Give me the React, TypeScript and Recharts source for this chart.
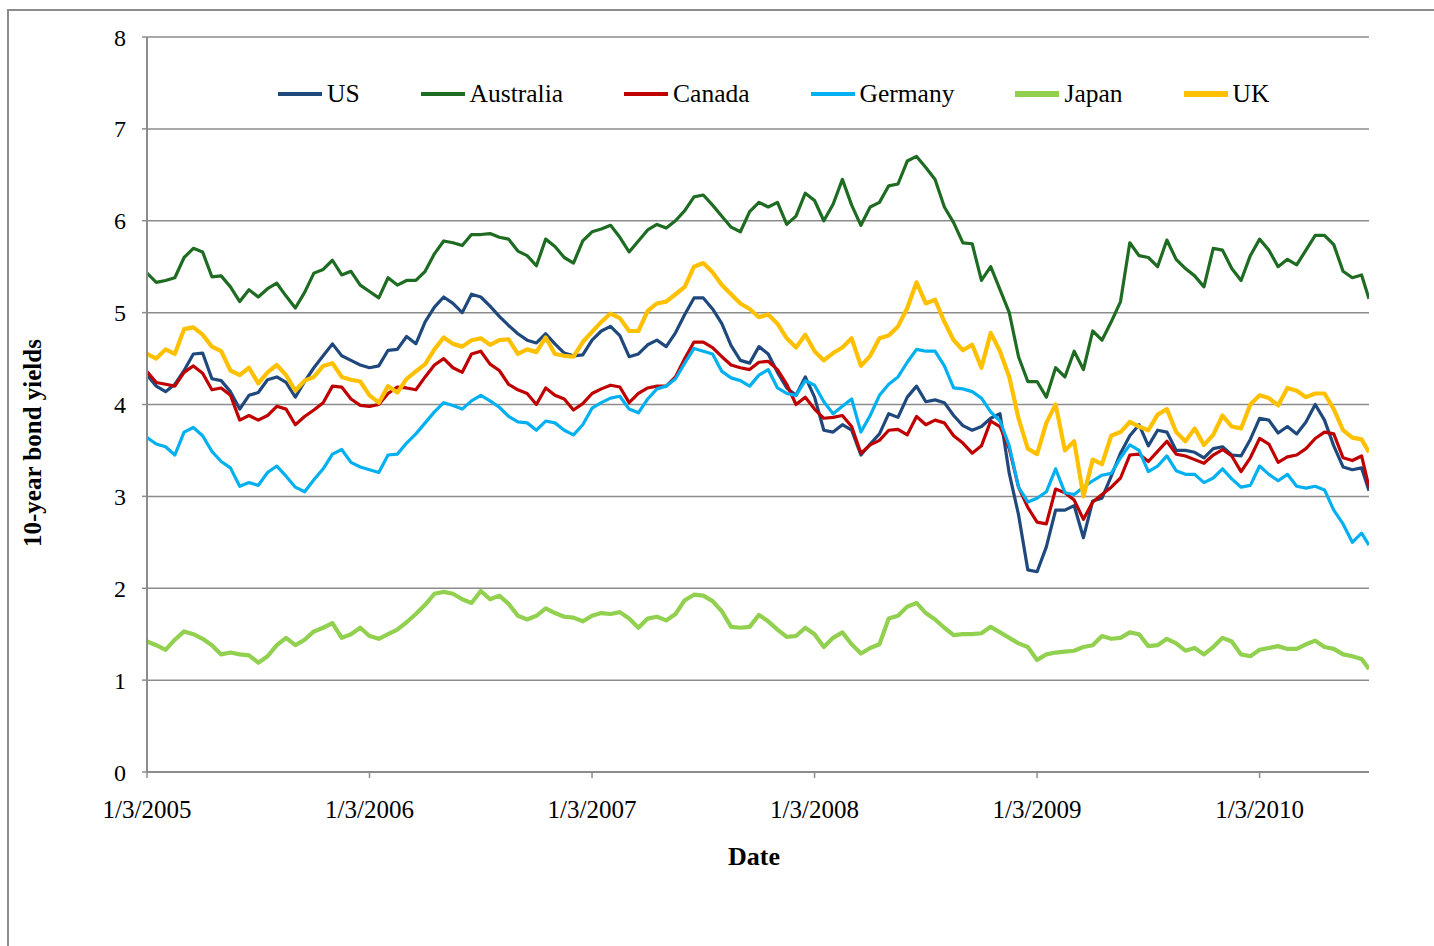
import React from 'react';
import { LineChart, Line, XAxis, YAxis, CartesianGrid } from 'recharts';

// x positions are months since 1/3/2005, sampled every half month
const months = [...Array.from({ length: 132 }, (_, i) => i / 2), 65.9];
const xTicks = [0, 12, 24, 36, 48, 60];
const xTickLabels = ['1/3/2005', '1/3/2006', '1/3/2007', '1/3/2008', '1/3/2009', '1/3/2010'];
const yTicks = [0, 1, 2, 3, 4, 5, 6, 7, 8];

const us = [
  4.32, 4.20, 4.14, 4.22, 4.37, 4.55, 4.56, 4.28, 4.26, 4.14, 3.95, 4.10, 4.13, 4.27, 4.30, 4.24, 4.08, 4.25, 4.40, 4.53, 4.66, 4.53, 4.48, 4.43, 4.40,
  4.42, 4.59, 4.60, 4.74, 4.66, 4.90, 5.06, 5.17, 5.10, 5.00, 5.20, 5.17, 5.07, 4.96, 4.86, 4.77, 4.70, 4.67, 4.77, 4.66, 4.56, 4.53, 4.54, 4.70,
  4.80, 4.85, 4.75, 4.52, 4.55, 4.65, 4.70, 4.63, 4.78, 4.98, 5.16, 5.16, 5.04, 4.88, 4.64, 4.48, 4.45, 4.63, 4.55, 4.35, 4.18, 4.10, 4.30, 4.08,
  3.72, 3.70, 3.78, 3.72, 3.45, 3.57, 3.68, 3.90, 3.86, 4.08, 4.20, 4.03, 4.05, 4.02, 3.88, 3.77, 3.72, 3.76, 3.85, 3.90, 3.25, 2.80, 2.20, 2.18,
  2.45, 2.85, 2.85, 2.90, 2.55, 2.95, 2.98, 3.22, 3.47, 3.66, 3.78, 3.55, 3.72, 3.70, 3.50, 3.50, 3.48, 3.42, 3.52, 3.54, 3.45, 3.44, 3.62, 3.85,
  3.83, 3.69, 3.76, 3.68, 3.81, 4.00, 3.83, 3.55, 3.32, 3.29, 3.31, 3.06,
];

const australia = [
  5.43, 5.33, 5.35, 5.38, 5.60, 5.70, 5.66, 5.39, 5.40, 5.28, 5.12, 5.25, 5.17, 5.26, 5.32, 5.18, 5.05, 5.22, 5.43, 5.47, 5.57, 5.41, 5.45, 5.30, 5.23,
  5.16, 5.38, 5.30, 5.35, 5.35, 5.45, 5.64, 5.78, 5.76, 5.73, 5.85, 5.85, 5.86, 5.82, 5.80, 5.67, 5.62, 5.51, 5.80, 5.72, 5.60, 5.54, 5.78, 5.88,
  5.91, 5.95, 5.82, 5.66, 5.78, 5.90, 5.96, 5.92, 6.00, 6.11, 6.26, 6.28, 6.17, 6.05, 5.93, 5.88, 6.10, 6.20, 6.15, 6.20, 5.96, 6.05, 6.30, 6.22,
  6.00, 6.18, 6.45, 6.17, 5.95, 6.15, 6.20, 6.38, 6.40, 6.65, 6.70, 6.58, 6.45, 6.15, 5.98, 5.76, 5.75, 5.35, 5.50, 5.25, 5.00, 4.52, 4.25, 4.25,
  4.08, 4.40, 4.30, 4.58, 4.38, 4.80, 4.70, 4.90, 5.12, 5.76, 5.62, 5.60, 5.50, 5.79, 5.58, 5.48, 5.40, 5.28, 5.70, 5.68, 5.48, 5.35, 5.62, 5.80,
  5.68, 5.50, 5.58, 5.52, 5.68, 5.84, 5.84, 5.74, 5.45, 5.38, 5.41, 5.15,
];

const canada = [
  4.36, 4.24, 4.22, 4.20, 4.35, 4.42, 4.34, 4.16, 4.18, 4.10, 3.83, 3.88, 3.83, 3.88, 3.98, 3.95, 3.78, 3.87, 3.94, 4.02, 4.20, 4.19, 4.06, 3.99, 3.98,
  4.00, 4.12, 4.19, 4.18, 4.16, 4.30, 4.43, 4.50, 4.40, 4.35, 4.55, 4.58, 4.44, 4.37, 4.22, 4.16, 4.12, 4.00, 4.18, 4.10, 4.06, 3.94, 4.01, 4.12,
  4.17, 4.21, 4.19, 4.02, 4.12, 4.18, 4.20, 4.20, 4.30, 4.50, 4.68, 4.68, 4.62, 4.52, 4.43, 4.40, 4.38, 4.46, 4.47, 4.38, 4.22, 4.00, 4.08, 3.95,
  3.85, 3.86, 3.88, 3.76, 3.47, 3.56, 3.61, 3.72, 3.73, 3.67, 3.87, 3.78, 3.83, 3.80, 3.66, 3.58, 3.47, 3.55, 3.82, 3.76, 3.52, 3.10, 2.88, 2.72,
  2.70, 3.08, 3.04, 2.96, 2.75, 2.94, 3.02, 3.10, 3.20, 3.45, 3.46, 3.38, 3.49, 3.60, 3.46, 3.44, 3.40, 3.36, 3.45, 3.51, 3.44, 3.27, 3.42, 3.63,
  3.57, 3.37, 3.43, 3.45, 3.52, 3.63, 3.70, 3.68, 3.42, 3.39, 3.44, 3.10,
];

const germany = [
  3.64, 3.57, 3.54, 3.45, 3.70, 3.75, 3.66, 3.49, 3.38, 3.31, 3.11, 3.15, 3.12, 3.26, 3.33, 3.22, 3.10, 3.05, 3.18, 3.30, 3.46, 3.51, 3.37, 3.32, 3.29,
  3.26, 3.45, 3.46, 3.58, 3.68, 3.80, 3.92, 4.02, 3.99, 3.95, 4.04, 4.10, 4.04, 3.97, 3.87, 3.81, 3.80, 3.72, 3.82, 3.80, 3.72, 3.67, 3.78, 3.96,
  4.02, 4.07, 4.09, 3.95, 3.91, 4.06, 4.17, 4.20, 4.28, 4.45, 4.61, 4.58, 4.55, 4.36, 4.29, 4.26, 4.20, 4.32, 4.38, 4.18, 4.12, 4.10, 4.26, 4.21,
  4.03, 3.90, 3.98, 4.06, 3.70, 3.88, 4.10, 4.22, 4.30, 4.46, 4.60, 4.58, 4.58, 4.42, 4.18, 4.17, 4.14, 4.07, 3.92, 3.82, 3.55, 3.10, 2.94, 2.98,
  3.05, 3.30, 3.04, 3.02, 3.10, 3.17, 3.23, 3.25, 3.42, 3.56, 3.50, 3.27, 3.33, 3.44, 3.28, 3.24, 3.24, 3.15, 3.20, 3.30, 3.19, 3.10, 3.12, 3.33,
  3.24, 3.17, 3.24, 3.11, 3.09, 3.11, 3.07, 2.85, 2.70, 2.50, 2.60, 2.47,
];

const japan = [
  1.42, 1.38, 1.33, 1.44, 1.53, 1.50, 1.45, 1.38, 1.28, 1.30, 1.28, 1.27, 1.19, 1.26, 1.38, 1.46, 1.38, 1.44, 1.53, 1.57, 1.62, 1.46, 1.50, 1.57, 1.48,
  1.45, 1.50, 1.55, 1.63, 1.72, 1.82, 1.94, 1.96, 1.94, 1.88, 1.84, 1.97, 1.88, 1.92, 1.83, 1.70, 1.66, 1.70, 1.78, 1.73, 1.69, 1.68, 1.64, 1.70,
  1.73, 1.72, 1.74, 1.67, 1.57, 1.67, 1.69, 1.65, 1.72, 1.87, 1.93, 1.92, 1.86, 1.75, 1.58, 1.57, 1.58, 1.71, 1.64, 1.55, 1.47, 1.48, 1.57, 1.50,
  1.36, 1.46, 1.52, 1.39, 1.29, 1.35, 1.39, 1.67, 1.70, 1.80, 1.84, 1.73, 1.66, 1.57, 1.49, 1.50, 1.50, 1.51, 1.58, 1.52, 1.46, 1.40, 1.36, 1.22,
  1.28, 1.30, 1.31, 1.32, 1.36, 1.38, 1.48, 1.45, 1.46, 1.52, 1.50, 1.37, 1.38, 1.45, 1.40, 1.32, 1.35, 1.28, 1.36, 1.46, 1.42, 1.28, 1.26, 1.33,
  1.35, 1.37, 1.34, 1.34, 1.39, 1.43, 1.36, 1.34, 1.28, 1.26, 1.23, 1.12,
];

const uk = [
  4.55, 4.50, 4.60, 4.55, 4.82, 4.84, 4.76, 4.63, 4.58, 4.37, 4.32, 4.40, 4.23, 4.35, 4.43, 4.32, 4.15, 4.26, 4.30, 4.42, 4.45, 4.30, 4.27, 4.25, 4.10,
  4.02, 4.20, 4.13, 4.28, 4.36, 4.44, 4.60, 4.73, 4.66, 4.63, 4.70, 4.72, 4.65, 4.70, 4.71, 4.55, 4.60, 4.57, 4.73, 4.55, 4.53, 4.52, 4.68, 4.79,
  4.90, 4.99, 4.94, 4.80, 4.80, 5.02, 5.10, 5.12, 5.20, 5.28, 5.50, 5.54, 5.44, 5.30, 5.20, 5.10, 5.04, 4.95, 4.98, 4.88, 4.72, 4.62, 4.76, 4.58,
  4.48, 4.56, 4.62, 4.72, 4.42, 4.53, 4.72, 4.75, 4.85, 5.05, 5.33, 5.10, 5.14, 4.90, 4.70, 4.59, 4.65, 4.40, 4.78, 4.58, 4.30, 3.85, 3.52, 3.46,
  3.80, 4.00, 3.50, 3.60, 3.00, 3.40, 3.35, 3.66, 3.70, 3.81, 3.76, 3.72, 3.89, 3.95, 3.70, 3.60, 3.74, 3.56, 3.67, 3.88, 3.76, 3.74, 4.00, 4.10,
  4.07, 3.99, 4.18, 4.15, 4.08, 4.12, 4.12, 3.95, 3.72, 3.64, 3.62, 3.48,
];

const series = [
  { key: 'US', color: '#1F497D', width: 3.2, values: us },
  { key: 'Australia', color: '#1E6B22', width: 3.2, values: australia },
  { key: 'Canada', color: '#C00000', width: 3.2, values: canada },
  { key: 'Germany', color: '#00B0F0', width: 3.2, values: germany },
  { key: 'Japan', color: '#92D050', width: 4.2, values: japan },
  { key: 'UK', color: '#FFC000', width: 4.2, values: uk },
];

const data = months.map((m, i) => {
  const row: Record<string, number> = { m };
  series.forEach((s) => {
    row[s.key] = s.values[i];
  });
  return row;
});

const serif = '"Liberation Serif", "Times New Roman", serif';
const gray = '#8c8c8c';

export default function App() {
  return (
    <div style={{ position: 'relative', width: 1434, height: 946, fontFamily: serif, background: '#fff' }}>
      <style>{'body{margin:0;overflow:hidden;}'}</style>
      <div
        style={{
          position: 'absolute',
          left: 7,
          top: 9,
          width: 1427,
          height: 937,
          borderLeft: `2px solid ${gray}`,
          borderTop: `2px solid ${gray}`,
          boxSizing: 'border-box',
        }}
      />
      <div style={{ position: 'absolute', left: 0, top: 0 }}>
        <LineChart width={1434} height={946} data={data} margin={{ top: 37, right: 65, bottom: 114, left: 0 }}>
          <CartesianGrid vertical={false} stroke={gray} strokeWidth={1.5} />
          <XAxis
            dataKey="m"
            type="number"
            domain={[0, 65.9]}
            ticks={xTicks}
            tickFormatter={(v: number) => xTickLabels[xTicks.indexOf(v)]}
            height={60}
            axisLine={{ stroke: gray, strokeWidth: 2 }}
            tickLine={{ stroke: gray, strokeWidth: 1.5 }}
            tickSize={6}
            tickMargin={22}
            tick={{ fill: '#000', fontSize: 25, fontFamily: serif }}
            allowDataOverflow
          />
          <YAxis
            domain={[0, 8]}
            ticks={yTicks}
            width={147}
            axisLine={{ stroke: gray, strokeWidth: 2 }}
            tickLine={{ stroke: gray, strokeWidth: 1.5 }}
            tickSize={5}
            tickMargin={16}
            tick={{ fill: '#000', fontSize: 24, fontFamily: serif }}
          />
          {series.map((s) => (
            <Line
              key={s.key}
              type="linear"
              dataKey={s.key}
              stroke={s.color}
              strokeWidth={s.width}
              strokeLinejoin="round"
              dot={false}
              activeDot={false}
              isAnimationActive={false}
            />
          ))}
        </LineChart>
      </div>

      {/* legend */}
      <div style={{ position: 'absolute', left: 278, top: 78, display: 'flex', alignItems: 'center', gap: 61 }}>
        {series.map((s) => (
          <div key={s.key} style={{ display: 'flex', alignItems: 'center' }}>
            <div style={{ width: 44, height: s.width + 1, background: s.color, marginRight: 5 }} />
            <span style={{ fontSize: 25.5, lineHeight: '32px', color: '#000' }}>{s.key}</span>
          </div>
        ))}
      </div>

      <div
        style={{
          position: 'absolute',
          left: 654,
          top: 842,
          width: 200,
          textAlign: 'center',
          fontSize: 26,
          fontWeight: 'bold',
          lineHeight: '30px',
        }}
      >
        Date
      </div>
      <div
        style={{
          position: 'absolute',
          left: 33,
          top: 443,
          transform: 'translate(-50%, -50%) rotate(-90deg)',
          whiteSpace: 'nowrap',
          fontSize: 25,
          fontWeight: 'bold',
          lineHeight: '30px',
        }}
      >
        10-year bond yields
      </div>
    </div>
  );
}
